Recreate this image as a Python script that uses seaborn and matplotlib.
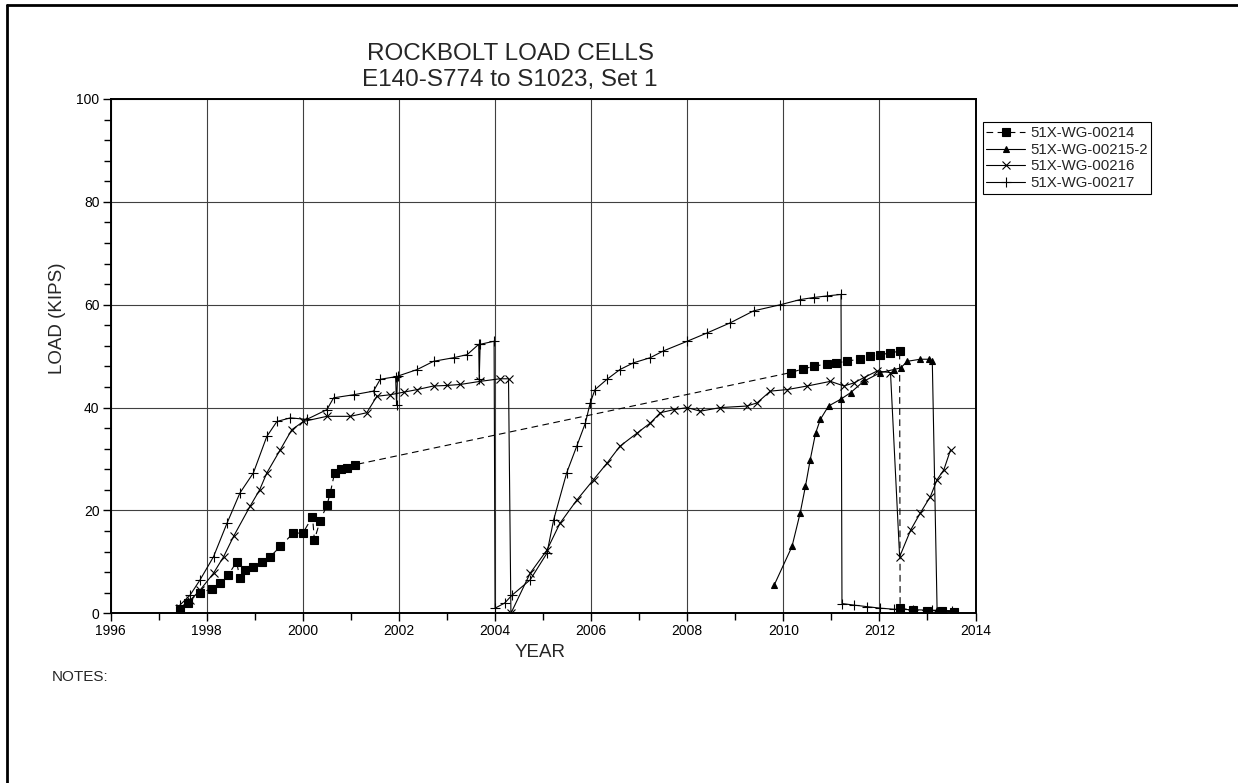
import matplotlib
matplotlib.use("Agg")
import matplotlib.pyplot as plt
from matplotlib.lines import Line2D
from matplotlib.ticker import MultipleLocator
import seaborn as sns
import pandas as pd

sns.set_theme(style="white")
plt.rcParams["font.family"] = ["Liberation Sans", "DejaVu Sans"]

# 51X-WG-00214 (squares, dashed)
yr_214 = [1997.44, 1997.6, 1997.86, 1998.1, 1998.28, 1998.45, 1998.62, 1998.69, 1998.8, 1998.97,
          1999.15, 1999.32, 1999.53, 1999.8, 2000.0, 2000.2, 2000.24, 2000.36, 2000.5, 2000.57,
          2000.66, 2000.8, 2000.92, 2001.09,
          2010.15, 2010.4, 2010.63, 2010.9, 2011.1, 2011.33, 2011.6, 2011.8, 2012.02, 2012.23,
          2012.42, 2012.43, 2012.7, 2013.0, 2013.3, 2013.55]
load_214 = [0.6, 2.0, 3.9, 4.8, 5.8, 7.5, 10.0, 6.8, 8.5, 9.1,
            10.0, 11.0, 13.0, 15.6, 15.6, 18.8, 14.3, 18.0, 21.0, 23.4,
            27.3, 28.0, 28.2, 28.9,
            46.8, 47.5, 48.0, 48.5, 48.7, 49.0, 49.5, 50.0, 50.3, 50.6,
            51.0, 1.0, 0.6, 0.5, 0.5, 0.3]

# 51X-WG-00215-2 (triangles)
yr_215 = [2009.81, 2010.18, 2010.35, 2010.46, 2010.56, 2010.67, 2010.77, 2010.94, 2011.19, 2011.4,
          2011.67, 2012.02, 2012.3, 2012.44, 2012.58, 2012.85, 2013.03, 2013.1, 2013.2, 2013.35,
          2013.55]
load_215 = [5.5, 13.0, 19.5, 24.7, 29.9, 35.0, 37.7, 40.3, 41.6, 42.9,
            45.1, 46.8, 47.4, 47.7, 49.0, 49.4, 49.4, 49.0, 0.6, 0.5,
            0.4]

# 51X-WG-00216 (x)
yr_216 = [1997.44, 1997.65, 1997.86, 1998.14, 1998.35, 1998.56, 1998.9, 1999.1, 1999.25, 1999.53,
          1999.77, 2000.01, 2000.5, 2000.99, 2001.33, 2001.54, 2001.82, 2002.1, 2002.38, 2002.72,
          2003.0, 2003.28, 2003.69, 2004.1, 2004.28, 2004.33, 2004.73, 2005.08, 2005.35, 2005.7,
          2006.05, 2006.33, 2006.6, 2006.95, 2007.23, 2007.44, 2007.72, 2008.0, 2008.27, 2008.69,
          2009.24, 2009.45, 2009.73, 2010.08, 2010.5, 2010.98, 2011.26, 2011.47, 2011.67, 2011.95,
          2012.23, 2012.42, 2012.65, 2012.85, 2013.06, 2013.2, 2013.34, 2013.48]
load_216 = [1.0, 2.5, 4.5, 7.8, 11.0, 15.0, 20.8, 24.0, 27.3, 31.8,
            35.7, 37.3, 38.3, 38.3, 39.0, 42.2, 42.5, 43.0, 43.5, 44.2,
            44.3, 44.5, 45.1, 45.6, 45.6, 0.0, 7.8, 12.3, 17.5, 22.0,
            26.0, 29.2, 32.5, 35.0, 37.0, 39.0, 39.6, 40.0, 39.3, 40.0,
            40.3, 40.9, 43.2, 43.5, 44.2, 45.1, 44.2, 44.8, 45.8, 47.1,
            46.8, 11.0, 16.2, 19.5, 22.7, 26.0, 27.9, 31.8]

# 51X-WG-00217 (+)
yr_217 = [1997.44, 1997.65, 1997.86, 1998.14, 1998.42, 1998.69, 1998.97, 1999.25, 1999.46, 1999.74,
          2000.08, 2000.5, 2000.64, 2001.06, 2001.47, 2001.61, 2001.93, 2001.95, 2001.97, 2002.38,
          2002.72, 2003.14, 2003.42, 2003.66, 2003.67, 2003.69, 2003.98, 2004.0, 2004.2, 2004.35,
          2004.73, 2005.08, 2005.22, 2005.49, 2005.7, 2005.88, 2005.98, 2006.08, 2006.33, 2006.6,
          2006.88, 2007.23, 2007.5, 2008.0, 2008.41, 2008.9, 2009.38, 2009.94, 2010.35, 2010.63,
          2010.9, 2011.2, 2011.22, 2011.47, 2011.74, 2012.02, 2012.3, 2012.7, 2013.1, 2013.5]
load_217 = [1.6, 3.5, 6.5, 11.0, 17.5, 23.4, 27.3, 34.4, 37.3, 38.0,
            37.7, 39.6, 41.9, 42.5, 43.2, 45.5, 46.0, 40.5, 46.1, 47.4,
            49.0, 49.7, 50.3, 52.3, 45.5, 52.3, 52.9, 1.0, 2.0, 3.5,
            6.5, 11.7, 18.2, 27.3, 32.5, 37.0, 40.9, 43.5, 45.5, 47.4,
            48.7, 49.7, 51.0, 52.9, 54.5, 56.5, 58.8, 60.0, 61.0, 61.4,
            61.7, 62.0, 1.9, 1.6, 1.3, 1.0, 0.8, 0.7, 0.6, 0.5]

series = [
    ("51X-WG-00214", yr_214, load_214, dict(marker="s", markersize=6, linestyle=(0, (6, 4)))),
    ("51X-WG-00215-2", yr_215, load_215, dict(marker="^", markersize=4.5, linestyle="-")),
    ("51X-WG-00216", yr_216, load_216, dict(marker="x", markersize=6, linestyle="-")),
    ("51X-WG-00217", yr_217, load_217, dict(marker="+", markersize=7, linestyle="-")),
]

fig = plt.figure(figsize=(12.38, 7.83), dpi=100)
ax = fig.add_axes([0.0894, 0.2167, 0.6986, 0.6569])

for name, yrs, loads, style in series:
    df = pd.DataFrame({"YEAR": yrs, "LOAD": loads})
    sns.lineplot(data=df, x="YEAR", y="LOAD", ax=ax, sort=False, estimator=None,
                 color="black", linewidth=0.8, markeredgecolor="black",
                 markerfacecolor="black", markeredgewidth=0.8, label=name, **style)

ax.set_xlim(1996, 2014)
ax.set_ylim(0, 100)
ax.xaxis.set_major_locator(MultipleLocator(2))
ax.xaxis.set_minor_locator(MultipleLocator(1))
ax.yaxis.set_major_locator(MultipleLocator(20))
ax.yaxis.set_minor_locator(MultipleLocator(4))
ax.tick_params(which="both", direction="out", color="black", width=1, labelsize=10,
               labelcolor="black", left=True, bottom=True)
ax.tick_params(which="major", length=6, pad=2)
ax.tick_params(which="minor", length=5)
ax.grid(True, which="major", color="0.25", linewidth=0.8)
ax.set_axisbelow(True)
for sp in ax.spines.values():
    sp.set_color("black")
    sp.set_linewidth(1.4)
ax.set_xlabel("")
ax.set_ylabel("")

handles, labels = ax.get_legend_handles_labels()
ax.get_legend().remove()
leg = fig.legend(handles, labels, loc="upper left", bbox_to_anchor=(0.7938, 0.8438),
                 fontsize=10.8, frameon=True, fancybox=False, framealpha=1,
                 edgecolor="black", borderpad=0.25, labelspacing=0.18,
                 handlelength=2.6, handletextpad=0.3, borderaxespad=0)
leg.get_frame().set_linewidth(0.8)

fig.text(0.412, 1 - 60 / 783, "ROCKBOLT LOAD CELLS", ha="center", va="baseline", fontsize=17.5)
fig.text(0.412, 1 - 85.7 / 783, "E140-S774 to S1023, Set 1", ha="center", va="baseline", fontsize=17.5)
fig.text(540 / 1238, 1 - 657 / 783, "YEAR", ha="center", va="baseline", fontsize=13.5)
fig.text(58 / 1238, 1 - 318 / 783, "LOAD (KIPS)", ha="center", va="center",
         rotation=90, fontsize=13.5)
fig.text(52 / 1238, 1 - 680.7 / 783, "NOTES:", ha="left", va="baseline", fontsize=11)

# page frame
fig.add_artist(Line2D([7 / 1238, 7 / 1238], [0, 1 - 5 / 783], transform=fig.transFigure,
                      color="black", linewidth=2))
fig.add_artist(Line2D([7 / 1238, 1], [1 - 5 / 783, 1 - 5 / 783], transform=fig.transFigure,
                      color="black", linewidth=2))

fig.savefig("out.png", dpi=100)
